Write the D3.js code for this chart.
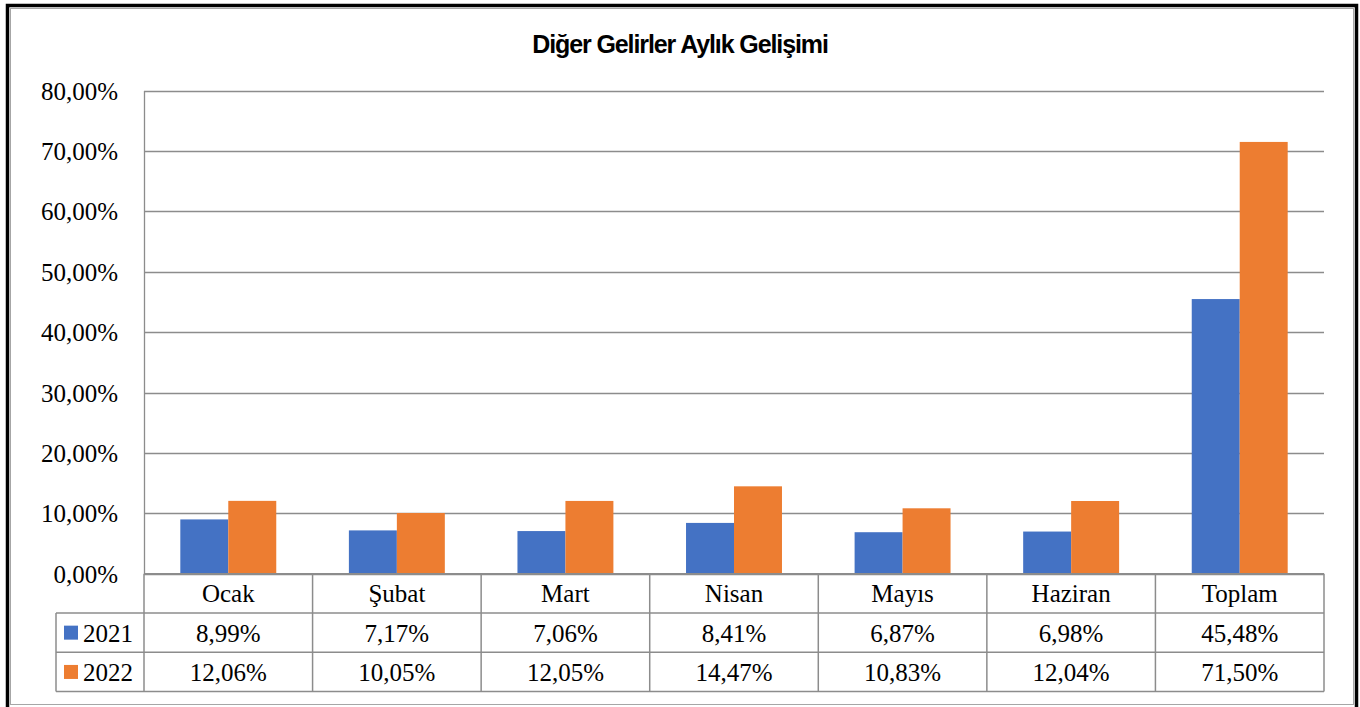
<!DOCTYPE html>
<html>
<head>
<meta charset="utf-8">
<script src="https://cdn.jsdelivr.net/npm/d3@7"></script>
<style>
  body { margin: 0; background: #fff; }
  svg { display: block; }
</style>
</head>
<body>
<svg id="chart"></svg>
<script>
// data
var months = ["Ocak", "Şubat", "Mart", "Nisan", "Mayıs", "Haziran", "Toplam"];
var years = ["2021", "2022"];
var values2021 = [8.99, 7.17, 7.06, 8.41, 6.87, 6.98, 45.48];
var values2022 = [12.06, 10.05, 12.05, 14.47, 10.83, 12.04, 71.50];
var yTicks = [0, 10, 20, 30, 40, 50, 60, 70, 80];

var colors = ["#4472C4", "#ED7D31"];
var gridColor = "#8c8c8c";

var width = 1360,
    height = 707;

var plot = {left: 144, right: 1324, top: 90.6, bottom: 573.7};
var rowH = 39.3;

var fmt = function(v) {
  return v.toFixed(2).replace(".", ",") + "%";
};

var series = years.map(function(y, i) {
  return {year: y, values: i == 0 ? values2021 : values2022, color: colors[i]};
});

var svg = d3.select("#chart")
    .attr("width", width)
    .attr("height", height);

// outer frame: thick black line + thin gray one inside
svg.append("rect")
    .attr("x", 7.5).attr("y", 5.5)
    .attr("width", 1349).attr("height", 706)
    .attr("fill", "none")
    .attr("stroke", "#000")
    .attr("stroke-width", 3.5);
svg.append("rect")
    .attr("x", 10.5).attr("y", 8.5)
    .attr("width", 1343).attr("height", 696)
    .attr("fill", "none")
    .attr("stroke", "#a6a6a6")
    .attr("stroke-width", 1);

// title
svg.append("text")
    .attr("x", 680).attr("y", 53)
    .attr("text-anchor", "middle")
    .style("font-family", "'Liberation Sans', Arial, sans-serif")
    .style("font-weight", "bold")
    .style("font-size", "25px")
    .style("letter-spacing", "-1.1px")
    .text("Diğer Gelirler Aylık Gelişimi");

var x = d3.scaleBand()
    .domain(months)
    .range([plot.left, plot.right])
    .paddingInner(0)
    .paddingOuter(0);

var x1 = d3.scaleBand()
    .domain(years)
    .range([0, x.bandwidth()])
    .paddingOuter(0.757)
    .paddingInner(0);

var y = d3.scaleLinear()
    .domain([0, 80])
    .range([plot.bottom, plot.top]);

// gridlines
svg.append("g")
  .selectAll("line")
  .data(yTicks)
  .enter().append("line")
    .attr("x1", plot.left).attr("x2", plot.right)
    .attr("y1", function(d) { return Math.round(y(d)) + 0.5; })
    .attr("y2", function(d) { return Math.round(y(d)) + 0.5; })
    .attr("stroke", gridColor)
    .attr("stroke-width", 1.3);

// y axis tick labels
var yAxis = d3.axisLeft(y)
    .tickValues(yTicks)
    .tickSize(0)
    .tickPadding(26)
    .tickFormat(function(d) { return fmt(d); });

svg.append("g")
    .attr("transform", "translate(" + plot.left + ",0)")
    .call(yAxis)
    .call(function(g) { g.select(".domain").remove(); })
    .selectAll("text")
    .style("font-family", "'Liberation Serif', 'Times New Roman', serif")
    .style("font-size", "25px")
    .attr("fill", "#000")
    .attr("dy", "0.34em");

// bars
var groups = svg.append("g")
  .selectAll("g")
  .data(series)
  .enter().append("g")
    .attr("fill", function(d) { return d.color; });

groups.selectAll("rect")
  .data(function(s) {
    return s.values.map(function(v, i) { return {month: months[i], year: s.year, value: v}; });
  })
  .enter().append("rect")
    .attr("x", function(d) { return x(d.month) + x1(d.year); })
    .attr("width", x1.bandwidth())
    .attr("y", function(d) { return y(d.value); })
    .attr("height", function(d) { return y(0) - y(d.value); });

// vertical axis line
svg.append("line")
    .attr("x1", plot.left + 0.5).attr("x2", plot.left + 0.5)
    .attr("y1", Math.round(plot.top)).attr("y2", plot.bottom)
    .attr("stroke", gridColor)
    .attr("stroke-width", 1.3);

// data table below the plot
var tTop = plot.bottom;
var legendLeft = 56;
var table = svg.append("g");
var lineStyle = function(sel) {
  sel.attr("stroke", gridColor).attr("stroke-width", 1.5);
};

// horizontal lines
[0, 1, 2, 3].forEach(function(r) {
  table.append("line")
      .attr("x1", r == 0 ? plot.left : legendLeft)
      .attr("x2", plot.right)
      .attr("y1", tTop + r * rowH).attr("y2", tTop + r * rowH)
      .call(lineStyle);
});
// vertical lines
var colEdges = months.map(function(m) { return x(m); }).concat([plot.right]);
colEdges.forEach(function(cx) {
  table.append("line")
      .attr("x1", cx).attr("x2", cx)
      .attr("y1", tTop).attr("y2", tTop + 3 * rowH)
      .call(lineStyle);
});
table.append("line")
    .attr("x1", legendLeft).attr("x2", legendLeft)
    .attr("y1", tTop + rowH).attr("y2", tTop + 3 * rowH)
    .call(lineStyle);

var cellFont = function(sel) {
  sel.style("font-family", "'Liberation Serif', 'Times New Roman', serif")
     .style("font-size", "25px")
     .attr("fill", "#000");
};

// category header
table.selectAll(".cat")
  .data(months)
  .enter().append("text")
    .attr("class", "cat")
    .attr("x", function(d) { return x(d) + x.bandwidth() / 2; })
    .attr("y", tTop + rowH / 2)
    .attr("dy", "0.36em")
    .attr("text-anchor", "middle")
    .call(cellFont)
    .text(function(d) { return d; });

// series rows
series.forEach(function(s, r) {
  var cy = tTop + (r + 1) * rowH + rowH / 2;
  table.append("rect")
      .attr("x", 64).attr("y", cy - 7)
      .attr("width", 14).attr("height", 14)
      .attr("fill", s.color);
  table.append("text")
      .attr("x", 83).attr("y", cy)
      .attr("dy", "0.36em")
      .call(cellFont)
      .text(s.year);
  table.selectAll(".v" + r)
    .data(s.values)
    .enter().append("text")
      .attr("x", function(d, i) { return x(months[i]) + x.bandwidth() / 2; })
      .attr("y", cy)
      .attr("dy", "0.36em")
      .attr("text-anchor", "middle")
      .call(cellFont)
      .text(function(d) { return fmt(d); });
});
</script>
</body>
</html>
